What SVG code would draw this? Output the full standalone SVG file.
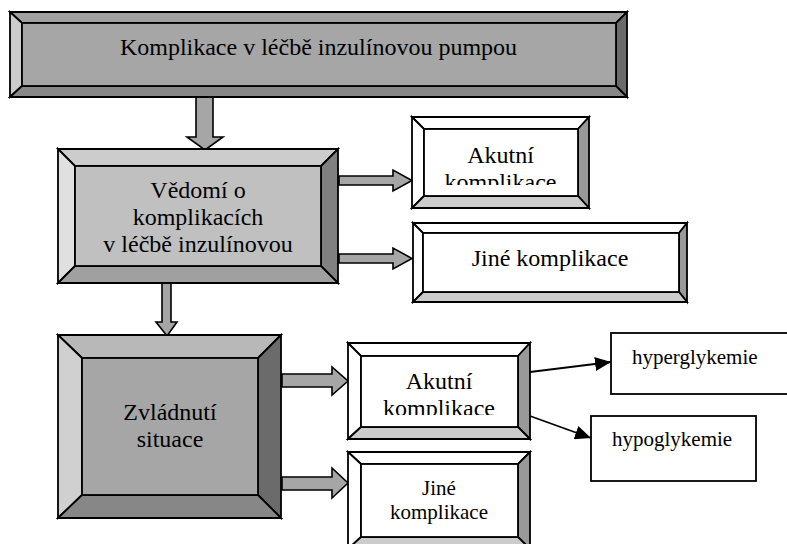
<svg xmlns="http://www.w3.org/2000/svg" width="787" height="544" viewBox="0 0 787 544">
<style>
  text { font-family: "Liberation Serif", "Times New Roman", serif; fill: #000; text-anchor: middle; }
  .bv { stroke: #000; stroke-width: 1.8; stroke-linejoin: miter; }
  .t24 { font-size: 24px; }
  .t21 { font-size: 21px; }
  .arr { fill: #a6a6a6; stroke: #000; stroke-width: 1.6; stroke-linejoin: miter; }
  .ln { stroke: #000; stroke-width: 1.8; fill: none; }
  .plain { fill: #fff; stroke: #000; stroke-width: 1.8; }
</style>
<defs>
  <marker id="ah" markerUnits="userSpaceOnUse" markerWidth="16" markerHeight="14" refX="16" refY="7" orient="auto">
    <path d="M0,0 L16,7 L0,14 Z" fill="#000"/>
  </marker>
  <clipPath id="clipA1"><rect x="424" y="129" width="154" height="56"/></clipPath>
  <clipPath id="clipA2"><rect x="361" y="356" width="157" height="59"/></clipPath>
</defs>
<rect width="787" height="544" fill="#fff"/>

<g id="connectors">
  <polygon class="arr" points="196,97 213,97 213,137 223,137 205,150 187,137 196,137"/>
  <polygon class="arr" points="162,283 171,283 171,322 177,322 167,336 156,322 162,322"/>
  <polygon class="arr" points="339,176 393,176 393,170 412,180.5 393,191 393,185 339,185"/>
  <polygon class="arr" points="339,254 393,254 393,248 412,258.5 393,269 393,263 339,263"/>
  <polygon class="arr" points="282,374 332,374 332,367 348,381 332,395 332,387 282,387"/>
  <polygon class="arr" points="282,477 332,477 332,468 348,483 332,498 332,490 282,490"/>
  <line class="ln" x1="530" y1="372" x2="611" y2="362" marker-end="url(#ah)"/>
  <line class="ln" x1="530" y1="416" x2="591" y2="438" marker-end="url(#ah)"/>
</g>

<g id="top">
  <polygon class="bv" fill="#a0a0a0" points="10,12 627,12 616,23 22,23"/>
  <polygon class="bv" fill="#cccccc" points="10,12 22,23 22,86 10,97"/>
  <polygon class="bv" fill="#6b6b6b" points="627,12 627,97 616,86 616,23"/>
  <polygon class="bv" fill="#878787" points="10,97 22,86 616,86 627,97"/>
  <rect class="bv" fill="#a6a6a6" x="22" y="23" width="594" height="63"/>
  <text class="t24" x="318.5" y="55">Komplikace v léčbě inzulínovou pumpou</text>
</g>

<g id="vedomi">
  <polygon class="bv" fill="#cccccc" points="58,149 338,149 321,166 75,166"/>
  <polygon class="bv" fill="#e0e0e0" points="58,149 75,166 75,266 58,283"/>
  <polygon class="bv" fill="#808080" points="338,149 338,283 321,266 321,166"/>
  <polygon class="bv" fill="#a0a0a0" points="58,283 75,266 321,266 338,283"/>
  <rect class="bv" fill="#c0c0c0" x="75" y="166" width="246" height="100"/>
  <text class="t24" x="198" y="198">Vědomí o</text>
  <text class="t24" x="198" y="225">komplikacích</text>
  <text class="t24" x="198" y="252">v léčbě inzulínovou</text>
</g>

<g id="akutni1">
  <polygon class="bv" fill="#ffffff" points="412,117 589,117 578,129 424,129"/>
  <polygon class="bv" fill="#ffffff" points="412,117 424,129 424,196 412,208"/>
  <polygon class="bv" fill="#999999" points="589,117 589,208 578,196 578,129"/>
  <polygon class="bv" fill="#cccccc" points="412,208 424,196 578,196 589,208"/>
  <rect class="bv" fill="#ffffff" x="424" y="129" width="154" height="67"/>
  <g clip-path="url(#clipA1)">
    <text class="t24" x="500.5" y="163">Akutní</text>
    <text class="t24" x="500.5" y="190">komplikace</text>
  </g>
</g>

<g id="jine1">
  <polygon class="bv" fill="#ffffff" points="413,223 687,223 679,233 423,233"/>
  <polygon class="bv" fill="#ffffff" points="413,223 423,233 423,292 413,302"/>
  <polygon class="bv" fill="#999999" points="687,223 687,302 679,292 679,233"/>
  <polygon class="bv" fill="#cccccc" points="413,302 423,292 679,292 687,302"/>
  <rect class="bv" fill="#ffffff" x="423" y="233" width="256" height="59"/>
  <text class="t24" x="550" y="266">Jiné komplikace</text>
</g>

<g id="zvladnuti">
  <polygon class="bv" fill="#b8b8b8" points="58,335 281,335 258,358 82,358"/>
  <polygon class="bv" fill="#d0d0d0" points="58,335 82,358 82,495 58,518"/>
  <polygon class="bv" fill="#6b6b6b" points="281,335 281,518 258,495 258,358"/>
  <polygon class="bv" fill="#878787" points="58,518 82,495 258,495 281,518"/>
  <rect class="bv" fill="#a6a6a6" x="82" y="358" width="176" height="137"/>
  <text class="t24" x="170" y="420">Zvládnutí</text>
  <text class="t24" x="170" y="447">situace</text>
</g>

<g id="akutni2">
  <polygon class="bv" fill="#ffffff" points="348,343 530,343 518,356 361,356"/>
  <polygon class="bv" fill="#ffffff" points="348,343 361,356 361,427 348,439"/>
  <polygon class="bv" fill="#999999" points="530,343 530,439 518,427 518,356"/>
  <polygon class="bv" fill="#cccccc" points="348,439 361,427 518,427 530,439"/>
  <rect class="bv" fill="#ffffff" x="361" y="356" width="157" height="71"/>
  <g clip-path="url(#clipA2)">
    <text class="t24" x="439" y="389">Akutní</text>
    <text class="t24" x="439" y="416">komplikace</text>
  </g>
</g>

<g id="jine2">
  <polygon class="bv" fill="#ffffff" points="348,452 530,452 518,464 361,464"/>
  <polygon class="bv" fill="#ffffff" points="348,452 361,464 361,537 348,549"/>
  <polygon class="bv" fill="#999999" points="530,452 530,549 518,537 518,464"/>
  <polygon class="bv" fill="#cccccc" points="348,549 361,537 518,537 530,549"/>
  <rect class="bv" fill="#ffffff" x="361" y="464" width="157" height="73"/>
  <text class="t21" x="439" y="495">Jiné</text>
  <text class="t21" x="439" y="519">komplikace</text>
</g>

<g id="hyper">
  <rect class="plain" x="611" y="333" width="190" height="61"/>
  <text class="t21" x="632" y="364" style="text-anchor:start">hyperglykemie</text>
</g>

<g id="hypo">
  <rect class="plain" x="591" y="416" width="165" height="65"/>
  <text class="t21" x="612" y="446" style="text-anchor:start">hypoglykemie</text>
</g>
</svg>
